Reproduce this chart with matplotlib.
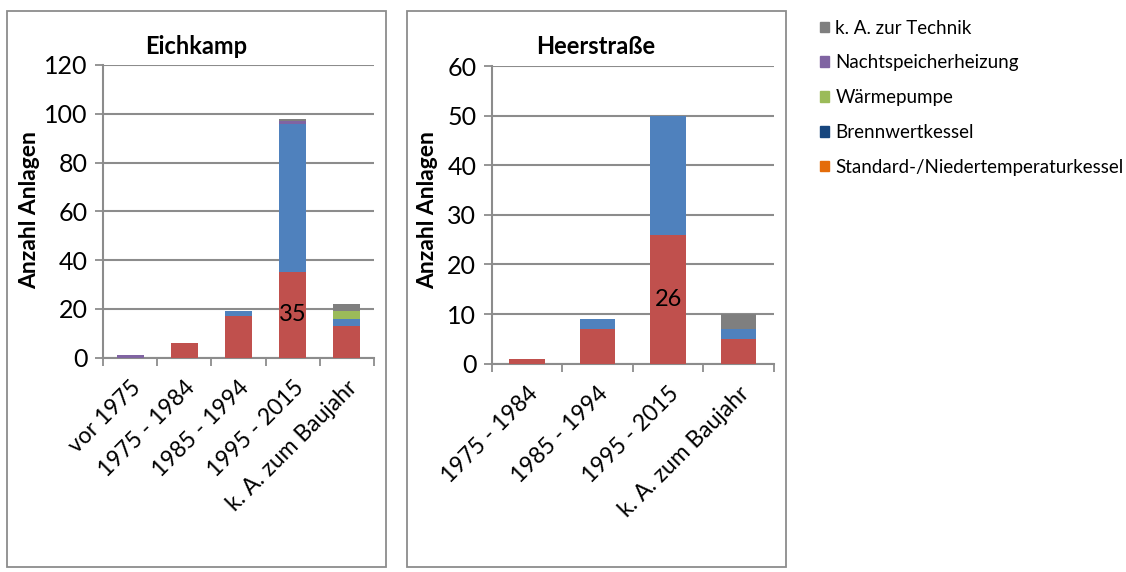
import matplotlib.pyplot as plt
from matplotlib.patches import Patch, Rectangle

plt.rcParams['font.family'] = ['Lato', 'DejaVu Sans']

# Eichkamp
cats_e = ["vor 1975", "1975 - 1984", "1985 - 1994", "1995 - 2015", "k. A. zum Baujahr"]
std_e = [0, 6, 17, 35, 13]
bw_e = [0, 0, 2, 61, 3]
wp_e = [0, 0, 0, 0, 3]
nsh_e = [1, 0, 0, 1, 0]
ka_e = [0, 0, 0, 1, 3]

# Heerstrasse
cats_h = ["1975 - 1984", "1985 - 1994", "1995 - 2015", "k. A. zum Baujahr"]
std_h = [1, 7, 26, 5]
bw_h = [0, 2, 24, 2]
wp_h = [0, 0, 0, 0]
nsh_h = [0, 0, 0, 0]
ka_h = [0, 0, 0, 3]

bar_cols = ["#C0504D", "#4F81BD", "#9BBB59", "#8064A2", "#7F7F7F"]
leg_names = ["k. A. zur Technik", "Nachtspeicherheizung", "Wärmepumpe",
             "Brennwertkessel", "Standard-/Niedertemperaturkessel"]
leg_cols = ["#7F7F7F", "#8064A2", "#9BBB59", "#17467E", "#E46C0A"]

W, H = 1126, 572
fig = plt.figure(figsize=(W / 100, H / 100), dpi=100)

# panel frames
for x0, x1 in [(7, 386), (407, 786)]:
    fig.patches.append(Rectangle((x0 / W, 1 - 567 / H), (x1 - x0) / W, 556 / H,
                                 transform=fig.transFigure, fill=False,
                                 edgecolor="#8C8C8C", lw=1.3))


def panel(rect, cats, series, ymax, step, label_idx, title, title_x, ylab_x):
    ax = fig.add_axes(rect)
    n = len(cats)
    x = list(range(n))
    bottom = [0] * n
    for vals, col in zip(series, bar_cols):
        ax.bar(x, vals, width=0.5, bottom=bottom, color=col, zorder=3)
        bottom = [b + v for b, v in zip(bottom, vals)]
    # value label in the middle of the red segment
    v = series[0][label_idx]
    ax.text(label_idx, v / 2, str(v), ha="center", va="center", fontsize=17, zorder=4)
    ax.set_xlim(-0.5, n - 0.5)
    ax.set_ylim(0, ymax)
    ax.set_yticks(range(0, ymax + 1, step))
    ax.yaxis.grid(True, color="#8C8C8C", lw=1.5, zorder=0)
    ax.tick_params(axis="y", length=6, color="#8C8C8C", labelsize=18, pad=5, width=1.3)
    ax.set_xticks(x)
    ax.set_xticklabels(cats, rotation=45, ha="right", rotation_mode="anchor", fontsize=16.5)
    ax.tick_params(axis="x", which="major", length=0, pad=14)
    ax.set_xticks([i - 0.5 for i in range(n + 1)], minor=True)
    ax.tick_params(axis="x", which="minor", length=6, color="#8C8C8C", width=1.3)
    for s in ["top", "right"]:
        ax.spines[s].set_visible(False)
    for s in ["left", "bottom"]:
        ax.spines[s].set_color("#8C8C8C")
        ax.spines[s].set_linewidth(1.5)
    fig.text(title_x / W, 1 - 46 / H, title, ha="center", va="center",
             fontsize=17, fontweight="bold")
    fig.text(ylab_x / W, 1 - 210 / H, "Anzahl Anlagen", ha="center", va="center",
             rotation=90, fontsize=16.5, fontweight="bold")
    return ax


panel([103 / W, 214.5 / H, 271 / W, 292.5 / H], cats_e,
      [std_e, bw_e, wp_e, nsh_e, ka_e], 120, 20, 3, "Eichkamp", 196, 30)
panel([491.6 / W, 208.4 / H, 282.4 / W, 297.6 / H], cats_h,
      [std_h, bw_h, wp_h, nsh_h, ka_h], 60, 10, 2, "Heerstraße", 596, 428)

handles = [Patch(color=c, label=l) for c, l in zip(leg_cols, leg_names)]
fig.legend(handles=handles, loc="upper left", bbox_to_anchor=(812 / W, 1 - 12 / H),
           frameon=False, fontsize=13.5, handlelength=0.5, handleheight=0.5,
           handletextpad=0.35, labelspacing=0.95, borderaxespad=0)

fig.savefig("out.png", dpi=100)
